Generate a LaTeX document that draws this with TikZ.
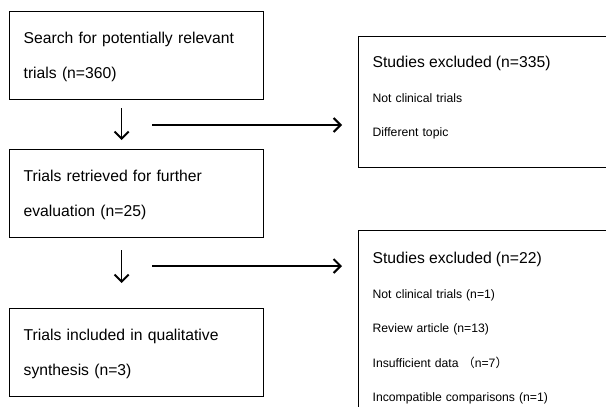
\documentclass[tikz,border=0pt]{standalone}
\usepackage{fontspec}
\setmainfont{Liberation Sans}
\newfontfamily\cjk{Noto Sans CJK SC}
\usetikzlibrary{arrows.meta}
\begin{document}
\begin{tikzpicture}[x=1pt,y=-1pt,
    box/.style={draw,line width=1.3pt,anchor=north west,align=left,inner xsep=14pt,text height=12pt},
    stagebox/.style={box,text width=226pt,minimum width=254pt,minimum height=88pt,text depth=36pt,font=\fontsize{15.7}{35}\selectfont},
    exclbox/.style={box,text width=252pt,minimum width=280pt,font=\fontsize{12.2}{34.5}\selectfont},
    arr/.style={line width=1.3pt,-{Straight Barb[length=7pt,width=14pt,line width=2pt]}}]
    \useasboundingbox (0,0) rectangle (606,407);
    \clip (0,0) rectangle (606,407);

    \node[stagebox] (search) at (9,11) {Search for potentially relevant\\trials (n=360)};
    \node[stagebox] (retrieved) at (9,149) {Trials retrieved for further\\evaluation (n=25)};
    \node[stagebox] (included) at (9,308) {Trials included in qualitative\\synthesis (n=3)};

    \node[exclbox,minimum height=131pt,text depth=81pt] (excl1) at (358,36)
        {{\fontsize{15.7}{34.5}\selectfont Studies excluded (n=335)}\\Not clinical trials\\Different topic};
    \node[exclbox,minimum height=200pt,text depth=146pt] (excl2) at (358,230)
        {{\fontsize{15.7}{34.5}\selectfont Studies excluded (n=22)}\\Not clinical trials (n=1)\\Review article (n=13)\\Insufficient data {\cjk （}n=7{\cjk ）}\\Incompatible comparisons (n=1)};

    % down arrows
    \draw[arr,shorten <=8pt,shorten >=9pt]([xshift=-15pt]search.south)--([xshift=-15pt]retrieved.north);
    \draw[arr,shorten <=12pt,shorten >=25pt]([xshift=-15pt]retrieved.south)--([xshift=-15pt]included.north);

    % side arrows
    \coordinate (h1) at (152,125);
    \coordinate (h2) at (152,266);
    \draw[arr,shorten >=16pt](h1)--(h1-|excl1.west);
    \draw[arr,shorten >=16pt](h2)--(h2-|excl2.west);
\end{tikzpicture}
\end{document}
